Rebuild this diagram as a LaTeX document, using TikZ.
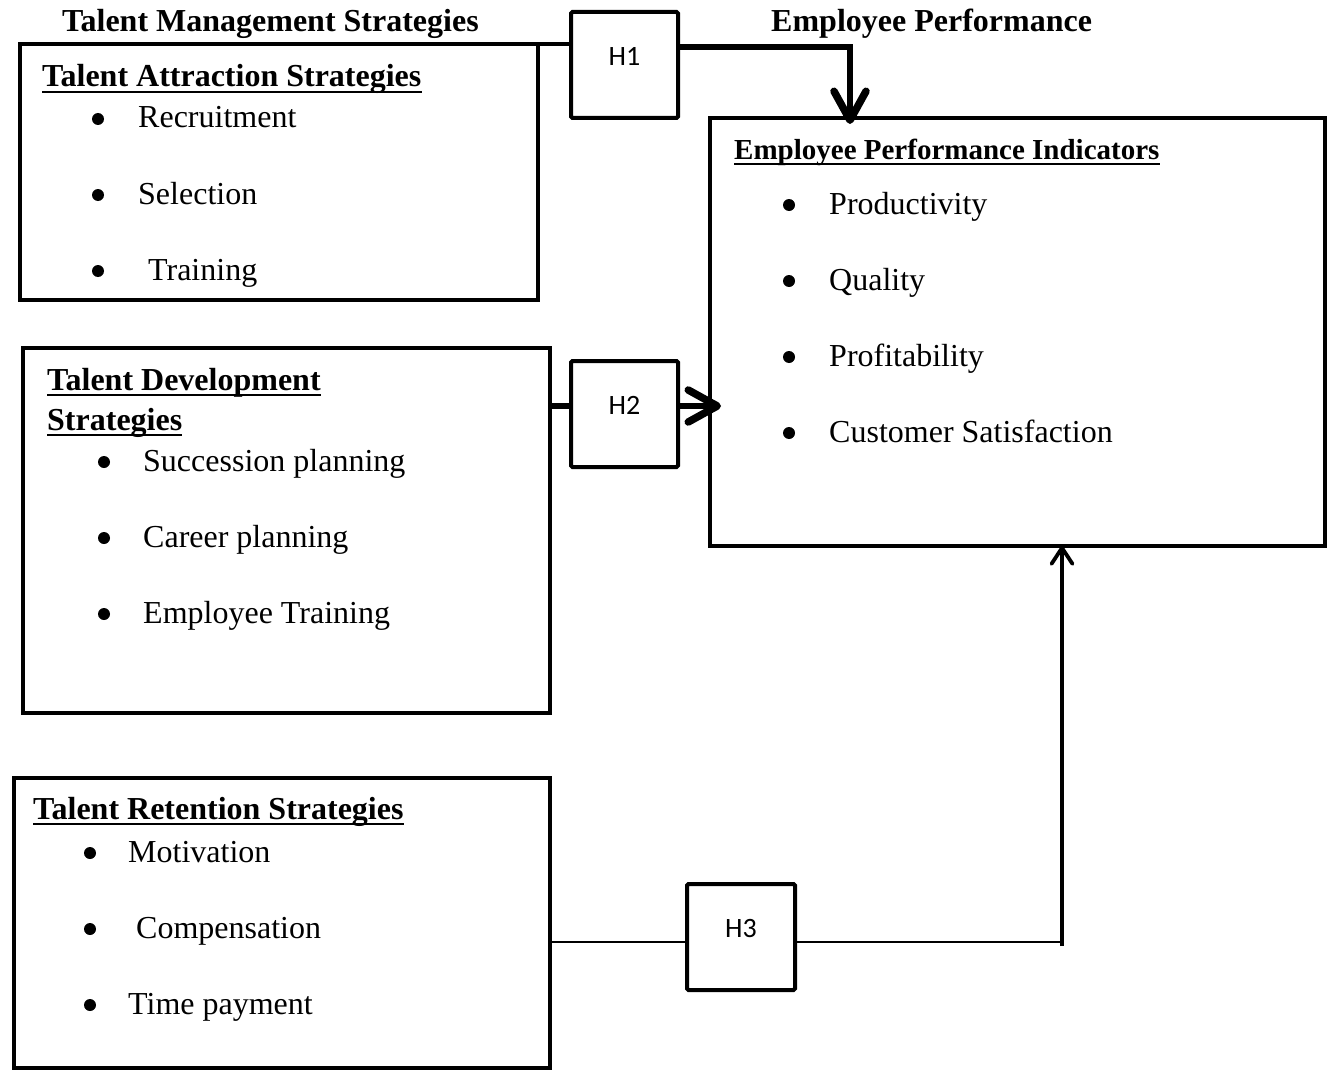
\documentclass[tikz,border=0pt]{standalone}
\usepackage{fontspec}
\setmainfont{Liberation Serif}
\newfontfamily\hfont{Carlito}
\usetikzlibrary{arrows.meta}
\begin{document}
\begin{tikzpicture}[x=1pt,y=-1pt,
  frame/.style={draw,line width=4.5pt,inner sep=0,outer sep=0},
  hbox/.style={draw,line width=4pt,rounded corners=1.5pt,inner sep=0,outer sep=0,minimum width=107pt,minimum height=106pt},
  hlab/.style={inner sep=0,font=\hfont\fontsize{28}{32}\selectfont},
  txt/.style={anchor=base west,inner sep=0,font=\fontsize{32}{38}\selectfont},
  hd/.style={anchor=base west,inner sep=0,font=\fontsize{32}{38}\selectfont\bfseries},
  hds/.style={anchor=base west,inner sep=0,font=\fontsize{29}{34}\selectfont\bfseries},
  bul/.style={circle,fill=black,inner sep=0,minimum size=12pt},
  uline/.style={line width=2pt},
  thickconn/.style={line width=6.5pt},
  barb/.style={-{Straight Barb[length=29pt,width=32pt,line width=7.5pt,round]}},
  thinconn/.style={line width=2pt},
  vconn/.style={line width=3.5pt,-{Straight Barb[length=16pt,width=21pt,line width=3.8pt,round]}}
]
\useasboundingbox (0,0) rectangle (1327,1070);

% boxes
\node[frame,minimum width=518pt,minimum height=256pt] (attr) at (279,172) {};
\node[frame,minimum width=527pt,minimum height=365pt] (dev) at (286.5,530.5) {};
\node[frame,minimum width=536pt,minimum height=290pt] (ret) at (282,923) {};
\node[frame,minimum width=615pt,minimum height=428pt] (ind) at (1017.5,332) {};
\node[hbox] (h1) at (624.5,65) {};
\node[hbox] (h2) at (624.5,414) {};
\node[hbox,minimum width=108pt] (h3) at (741,937) {};
\node[hlab] (h1t) at ([yshift=9pt]h1.center) {H1};
\node[hlab] (h2t) at ([yshift=9pt]h2.center) {H2};
\node[hlab] (h3t) at ([yshift=9pt]h3.center) {H3};

% titles
\node[hd] (tms) at (62,32) {Talent Management Strategies};
\node[hd] (ep) at (771,32) {Employee Performance};

% attraction
\node[hd] (ath) at (42,87) {Talent Attraction Strategies};
\draw[uline] ([yshift=-5pt]ath.base west) -- ([yshift=-5pt]ath.base east);
\node[bul] (ab1) at (98,119) {};
\node[txt] (a1) at (138,128) {Recruitment};
\node[bul] (ab2) at (98,195) {};
\node[txt] (a2) at (138,204) {Selection};
\node[bul] (ab3) at (98,271) {};
\node[txt] (a3) at (148,280) {Training};

% development
\node[hd] (dh1) at (47,390) {Talent Development};
\draw[uline] ([yshift=-5pt]dh1.base west) -- ([yshift=-5pt]dh1.base east);
\node[hd] (dh2) at (47,430) {Strategies};
\draw[uline] ([yshift=-5pt]dh2.base west) -- ([yshift=-5pt]dh2.base east);
\node[bul] (db1) at (104,462) {};
\node[txt] (d1) at (143,471) {Succession planning};
\node[bul] (db2) at (104,538) {};
\node[txt] (d2) at (143,547) {Career planning};
\node[bul] (db3) at (104,614) {};
\node[txt] (d3) at (143,623) {Employee Training};

% retention
\node[hd] (rh) at (33,819) {Talent Retention Strategies};
\draw[uline] ([yshift=-5pt]rh.base west) -- ([yshift=-5pt]rh.base east);
\node[bul] (rb1) at (90,853) {};
\node[txt] (r1) at (128,862) {Motivation};
\node[bul] (rb2) at (90,929) {};
\node[txt] (r2) at (136,938) {Compensation};
\node[bul] (rb3) at (90,1005) {};
\node[txt] (r3) at (128,1014) {Time payment};

% indicators
\node[hds] (ih) at (734,159) {Employee Performance Indicators};
\draw[uline] ([yshift=-5pt]ih.base west) -- ([yshift=-5pt]ih.base east);
\node[bul] (ib1) at (789,205) {};
\node[txt] (i1) at (829,214) {Productivity};
\node[bul] (ib2) at (789,281) {};
\node[txt] (i2) at (829,290) {Quality};
\node[bul] (ib3) at (789,357) {};
\node[txt] (i3) at (829,366) {Profitability};
\node[bul] (ib4) at (789,433) {};
\node[txt] (i4) at (829,442) {Customer Satisfaction};

% connectors
\coordinate (c1) at (850,47);
\draw[line width=4.5pt] (attr.north east) -- (attr.north east -| h1.west);
\draw[thickconn,barb,shorten >=-6pt] (h1.east |- c1) -- (c1) -- (c1 |- ind.north);

\coordinate (c2) at (550,406);
\draw[thickconn] (c2) -- (c2 -| h2.west);
\draw[thickconn,barb,shorten >=-11pt] (h2.east |- c2) -- (c2 -| ind.west);

\coordinate (c3) at (1062,942);
\draw[thinconn] (ret.east |- c3) -- (c3 -| h3.west);
\draw[thinconn] (h3.east |- c3) -- (c3);
\draw[vconn] ([yshift=-4pt]c3) -- (c3 |- ind.south);
\end{tikzpicture}
\end{document}
